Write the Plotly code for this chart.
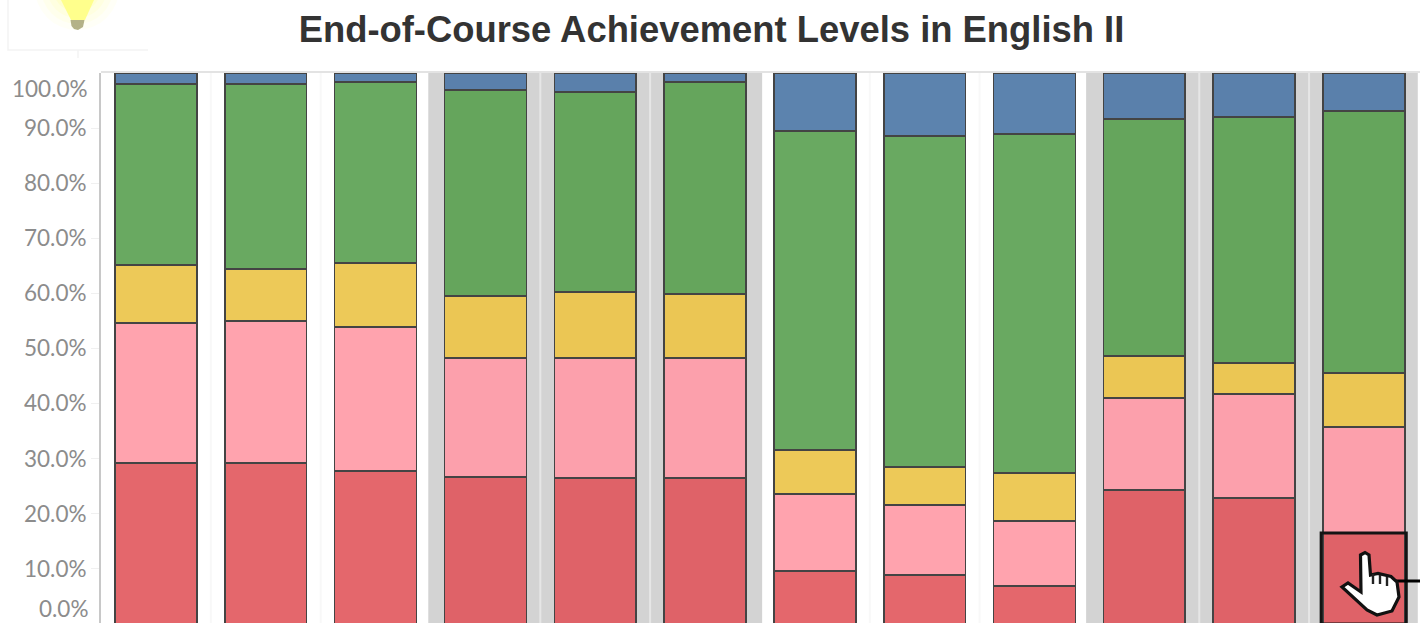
import plotly.graph_objects as go

categories = list(range(12))
level_1 = [29.2, 29.2, 27.8, 26.7, 26.5, 26.5, 9.6, 8.9, 6.9, 24.3, 22.9, 16.5]
level_2 = [25.4, 25.8, 26.1, 21.6, 21.8, 21.8, 14.0, 12.7, 11.8, 16.7, 18.8, 19.3]
level_3 = [10.6, 9.4, 11.6, 11.2, 12.0, 11.6, 8.0, 6.9, 8.7, 7.6, 5.7, 9.8]
level_4 = [32.8, 33.6, 32.9, 37.4, 36.3, 38.5, 57.9, 60.1, 61.5, 43.1, 44.6, 47.5]
level_5 = [2.0, 2.0, 1.6, 3.1, 3.4, 1.6, 10.5, 11.4, 11.1, 8.3, 8.0, 6.9]
y_ticks = [10, 20, 30, 40, 50, 60, 70, 80, 90]
title_text = "End-of-Course Achievement Levels in English II"

W, H = 1420, 623
L, T = 101, 73


def px(x):
    return (x - L) / (W - L)


def py(y):
    return (H - y) / (H - T)


def pth(points, close=True):
    s = " ".join(("M" if i == 0 else "L") + f"{px(x):.5f},{py(y):.5f}" for i, (x, y) in enumerate(points))
    return s + (" Z" if close else "")


SHADED = {3, 4, 5, 9, 10, 11}
palettes = [
    (level_1, "#E4676C", "#DF6268"),
    (level_2, "#FFA3AE", "#FCA0AC"),
    (level_3, "#EDC958", "#EBC654"),
    (level_4, "#69A961", "#65A55C"),
    (level_5, "#5C83AE", "#5A80AB"),
]

fig = go.Figure()
for vals, c_plain, c_shade in palettes:
    fig.add_trace(go.Bar(
        x=categories, y=vals, width=0.745,
        marker=dict(color=[c_shade if i in SHADED else c_plain for i in categories],
                    line=dict(color="#444444", width=1.6)),
        hoverinfo="skip", showlegend=False,
    ))

shapes = []
GRAY = "#D3D3D3"
for a, b in [(2.48, 5.52), (8.47, 11.49)]:
    shapes.append(dict(type="rect", xref="x", yref="paper", x0=a, x1=b, y0=0, y1=1,
                       fillcolor=GRAY, line_width=0, layer="below"))
for c in [3.5, 4.5, 9.5, 10.5]:
    shapes.append(dict(type="line", xref="x", yref="paper", x0=c, x1=c, y0=0, y1=1,
                       line=dict(color="#E6E6E6", width=2), layer="below"))
for c in [0.5, 1.5, 6.5, 7.5]:
    shapes.append(dict(type="line", xref="x", yref="paper", x0=c, x1=c, y0=0, y1=1,
                       line=dict(color="#F8F8F8", width=2), layer="below"))
# top edge
shapes.append(dict(type="line", xref="paper", yref="paper", x0=0, x1=1, y0=1.002, y1=1.002,
                   line=dict(color="#DADADA", width=1.5)))
# selected mark outline
shapes.append(dict(type="rect", xref="x", yref="y", x0=11 - 0.39, x1=11 + 0.385, y0=0, y1=level_1[11],
                   line=dict(color="#141414", width=3)))
# leader line and hand cursor
shapes.append(dict(type="line", xref="paper", yref="paper", x0=px(1396), x1=px(1420), y0=py(581), y1=py(581),
                   line=dict(color="#000000", width=3)))
hand = [(1360.5, 555), (1365, 552.5), (1369, 555), (1370.5, 575), (1378, 573.5), (1391, 576.5), (1397, 582),
        (1399, 597), (1392, 611), (1377, 615), (1367, 610), (1342, 587), (1348, 583), (1361, 592)]
shapes.append(dict(type="path", xref="paper", yref="paper", path=pth(hand), fillcolor="#FFFFFF",
                   line=dict(color="#111111", width=3.2)))
for hx, y0, y1 in [(1373, 574, 584), (1380, 575, 584), (1387, 577, 586)]:
    shapes.append(dict(type="line", xref="paper", yref="paper", x0=px(hx), x1=px(hx), y0=py(y0), y1=py(y1),
                       line=dict(color="#222222", width=2.4)))
# light bulb box and glow
for seg in [[(8, 0), (8, 50), (148, 50)], [(78, 50), (78, 58)]]:
    shapes.append(dict(type="path", xref="paper", yref="paper", path=pth(seg, close=False),
                       line=dict(color="#F3F3F3", width=1.5)))
for r, a in [(42, 0.06), (36, 0.08), (30, 0.10), (24, 0.14)]:
    shapes.append(dict(type="circle", xref="paper", yref="paper", x0=px(77 - r), x1=px(77 + r),
                       y0=py(-12 + r), y1=py(-12 - r), fillcolor=f"rgba(255,255,120,{a})", line_width=0))
shapes.append(dict(type="path", xref="paper", yref="paper",
                   path=pth([(61, 0), (94, 0), (85, 20), (71, 20)]),
                   fillcolor="#FFFF8C", line_width=0))
shapes.append(dict(type="path", xref="paper", yref="paper",
                   path=pth([(70.5, 20), (84.5, 20), (83, 27), (78, 30), (74, 29), (71.5, 26)]),
                   fillcolor="#B4B288", line_width=0))

TICK_FONT = dict(family="Lato", size=22.5, color="#8C8C8C")
annotations = [
    dict(text="100.0%", xref="paper", yref="paper", x=px(90), y=1, yshift=-15, xanchor="right", yanchor="middle",
         showarrow=False, font=TICK_FONT),
    dict(text="0.0%", xref="paper", yref="paper", x=px(90), y=0, yshift=15, xanchor="right", yanchor="middle",
         showarrow=False, font=TICK_FONT),
]

fig.update_layout(
    width=W, height=H, autosize=False, barmode="stack", bargap=0.25,
    margin=dict(l=L, r=0, t=T, b=0, pad=0),
    plot_bgcolor="#FFFFFF", paper_bgcolor="#FFFFFF",
    title=dict(text=f"<b>{title_text}</b>", x=711.5 / W, xanchor="center", y=1 - 29 / H, yanchor="middle",
               font=dict(family="Liberation Sans", size=36.4, color="#333333")),
    shapes=shapes, annotations=annotations,
)
fig.update_xaxes(range=[-0.5, 11.51], showticklabels=False, ticks="", showgrid=False, zeroline=False,
                 showline=False)
fig.update_yaxes(range=[0.18, 100], tickvals=y_ticks, ticktext=[f"{v:.1f}%" for v in y_ticks],
                 showgrid=False, zeroline=False, showline=True, linecolor="#C8C8C8", linewidth=2,
                 ticks="outside", ticklen=8, tickcolor="#F0F0F0", tickwidth=1,
                 tickfont=TICK_FONT)

fig.write_html("out.html", config={"displayModeBar": False},
               post_script="document.body.style.margin='0';")
